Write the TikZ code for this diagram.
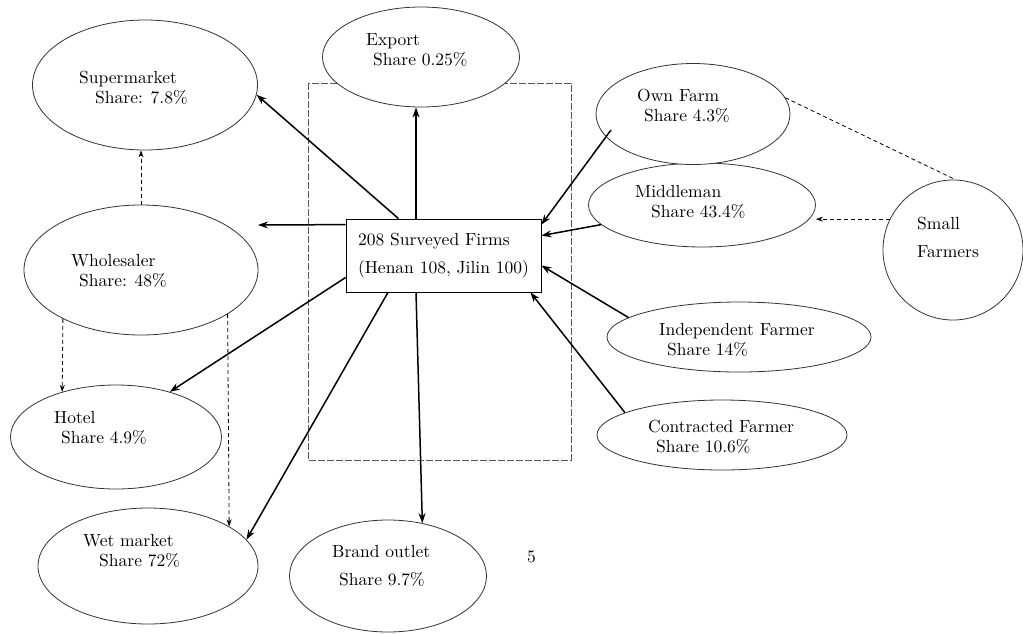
\documentclass[tikz,border=0pt]{standalone}
\usepackage{fontspec}
\setmainfont{lmroman10-regular.otf}
\usetikzlibrary{shapes.geometric,arrows.meta}

\begin{document}
\begin{tikzpicture}[x=1pt,y=-1pt,
  oval/.style={draw=black!80,ellipse,fill=white,line width=0.8pt,inner sep=0pt},
  lbl/.style={anchor=west,align=left,inner sep=0pt,font=\fontsize{17.5}{20}\selectfont},
  flow/.style={line width=1.5pt,-{Stealth[length=10pt,width=7pt]}},
  link/.style={dash pattern=on 4pt off 3pt,line width=0.8pt},
  tip/.style={-{Stealth[length=7pt,width=5pt]}}]
  \useasboundingbox (0,0) rectangle (1023,633);
  \draw[dash pattern=on 7pt off 2pt,color=black!65,line width=0.8pt] (308,83) rectangle (571,460);

  \node[oval,minimum width=197pt,minimum height=100pt] (exp) at (421,57) {};
  \node[oval,minimum width=225pt,minimum height=130pt] (sup) at (145,85) {};
  \node[oval,minimum width=234pt,minimum height=130pt] (whl) at (141,270) {};
  \node[oval,minimum width=211pt,minimum height=104pt] (hot) at (116,437) {};
  \node[oval,minimum width=220pt,minimum height=116pt] (wet) at (148,566) {};
  \node[oval,minimum width=197pt,minimum height=112pt] (brd) at (388,576) {};
  \node[oval,minimum width=227pt,minimum height=84pt] (mid) at (702,205) {};
  \node[oval,minimum width=194pt,minimum height=101pt] (own) at (693,114) {};
  \node[oval,minimum width=140pt,minimum height=140pt] (sml) at (953,250) {};
  \node[oval,minimum width=264pt,minimum height=70pt] (ind) at (739,337) {};
  \node[oval,minimum width=250pt,minimum height=70pt] (con) at (722,435) {};

  \node[draw,line width=0.8pt,minimum width=195pt,minimum height=73pt,align=left,
    font=\fontsize{17.5}{20}\selectfont] (firms) at (443.5,255.5)
    {208 Surveyed Firms\\[8pt](Henan 108, Jilin 100)};

  \node[lbl] (expT) at (366,50.5) {Export\\\hspace*{7pt}Share 0.25\%};
  \node[lbl] (supT) at (79,88) {Supermarket\\\hspace*{16pt}Share: 7.8\%};
  \node[lbl] (whlT) at (71,271) {Wholesaler\\\hspace*{8pt}Share: 48\%};
  \node[lbl] (hotT) at (54,428) {Hotel\\\hspace*{7pt}Share 4.9\%};
  \node[lbl] (wetT) at (83,551) {Wet market\\\hspace*{16pt}Share 72\%};
  \node[lbl] (brdT) at (332,566) {Brand outlet\\[8pt]\hspace*{7pt}Share 9.7\%};
  \node[lbl] (ownT) at (637,106) {Own Farm\\\hspace*{7pt}Share 4.3\%};
  \node[lbl] (midT) at (635,202) {Middleman\\\hspace*{16pt}Share 43.4\%};
  \node[lbl] (smlT) at (917,237) {Small\\[8pt]Farmers};
  \node[lbl] (indT) at (659,340) {Independent Farmer\\\hspace*{8pt}Share 14\%};
  \node[lbl] (conT) at (648,437) {Contracted Farmer\\\hspace*{8pt}Share 10.6\%};
  \node[lbl] (page) at (527,557) {5};

  \coordinate (whlIn) at (258,225);
  \draw[flow] ([xshift=-27.5pt]firms.north) -- ([xshift=-27.5pt]firms.north |- exp.south);
  \draw[flow] ([xshift=-45pt]firms.north) -- (sup.-5);
  \draw[flow] ([yshift=-6pt]firms.north west) -- (whlIn);
  \draw[flow] ([yshift=-22pt]firms.west) -- (hot.40);
  \draw[flow] ([xshift=-55.5pt]firms.south) -- (wet.15);
  \draw[flow] ([xshift=-27.5pt]firms.south) -- (brd.57);
  \draw[flow] ([xshift=-82pt,yshift=-16pt]own.center) -- ([yshift=-6pt]firms.north east);
  \draw[flow] (mid.191) -- ([yshift=-17pt]firms.north east);
  \draw[flow] (ind.170) -- ([yshift=-10pt]firms.east);
  \draw[flow] (con.167) -- ([xshift=-11pt]firms.south east);

  \draw[link,tip] (whl.north) -- (whl.north |- sup.south);
  \draw[link,tip] (whl.212) -- (hot.140);
  \draw[link,tip] (whl.-27) -- (wet.26);
  \draw[link,tip] (sml.154) -- (sml.154 -| mid.east);
  \draw[link] (own.10) -- (sml.88);
\end{tikzpicture}
\end{document}
